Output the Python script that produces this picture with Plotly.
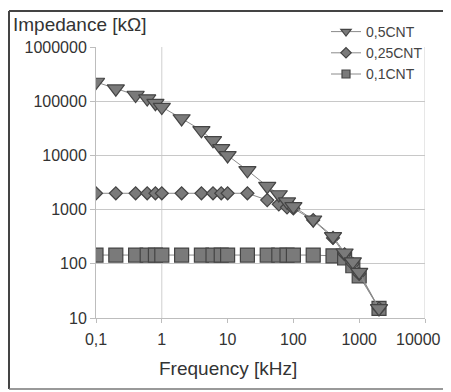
import plotly.graph_objects as go

freq = [0.1, 0.2, 0.4, 0.6, 0.8, 1, 2, 4, 6, 8, 10, 20, 40, 60, 80, 100, 200, 400, 600, 800, 1000, 2000]
z_05cnt = [226000, 170000, 130000, 112000, 92000, 78000, 48000, 29000, 19000, 13500, 10000, 5300,
           2700, 1900, 1400, 1150, 650, 320, 160, 110, 70, 15]
z_025cnt = [2000, 2000, 2000, 2000, 2000, 2000, 2000, 2000, 2000, 2000, 2000, 2000,
            1500, 1250, 1100, 1050, 640, 300, 150, 100, 65, 15]
z_01cnt = [145, 145, 145, 145, 145, 145, 145, 145, 145, 145, 145, 145,
           145, 145, 145, 145, 145, 140, 128, 92, 60, 15]
series_names = ["0,5CNT", "0,25CNT", "0,1CNT"]
x_tickvals = [0.1, 1, 10, 100, 1000, 10000]
x_ticktext = ["0,1", "1", "10", "100", "1000", "10000"]
y_tickvals = [10, 100, 1000, 10000, 100000, 1000000]
y_ticktext = ["10", "100", "1000", "10000", "100000", "1000000"]

# page body has an 8px margin: figure is drawn at (8, 8) in the window
OFF = 8
W, H = 451 - OFF, 392 - OFF
# plot area in window pixels
L, R, T, B = 96, 425, 47, 318


def px(x):
    return (x - L) / (R - L)


def py(y):
    return (B - y) / (B - T)


fig = go.Figure()
line_style = dict(color="#8a8a8a", width=1)
marker_common = dict(color="#7a7a7a", line=dict(color="#444444", width=1.2))

series = [
    (z_01cnt, series_names[2], "square", 14, 8, 3),
    (z_025cnt, series_names[1], "diamond", 10, 8, 2),
    (z_05cnt, series_names[0], "triangle-down", 15, 9, 1),
]
for yvals, name, sym, size, lsize, rank in series:
    fig.add_trace(go.Scatter(x=freq, y=yvals, name=name, mode="lines+markers",
                             line=line_style, showlegend=False,
                             marker=dict(symbol=sym, size=size, **marker_common)))
for yvals, name, sym, size, lsize, rank in series:
    # legend-only entry with small symbol like the original legend
    fig.add_trace(go.Scatter(x=[None], y=[None], name=name, mode="lines+markers",
                             line=line_style, legendrank=rank,
                             marker=dict(symbol=sym, size=lsize, **marker_common)))

shapes = [
    # outer frame
    dict(type="line", xref="paper", yref="paper", x0=px(9), x1=px(451), y0=py(11), y1=py(11),
         line=dict(color="#444", width=2)),
    dict(type="line", xref="paper", yref="paper", x0=px(9), x1=px(9), y0=py(11), y1=py(389),
         line=dict(color="#444", width=2)),
    dict(type="line", xref="paper", yref="paper", x0=px(9), x1=px(451), y0=py(389), y1=py(389),
         line=dict(color="#777", width=1.5)),
    # faint vertical lines
    dict(type="line", xref="x", yref="paper", x0=1, x1=1, y0=0, y1=1,
         line=dict(color="#cfcfcf", width=1), layer="below"),
    dict(type="line", xref="x", yref="paper", x0=10000, x1=10000, y0=0, y1=1,
         line=dict(color="#cfcfcf", width=1), layer="below"),
]

# the last x tick label would be clipped at the page edge: draw it right-aligned instead
shown_ticktext = x_ticktext[:-1] + [""]

fig.update_layout(
    width=W, height=H,
    margin=dict(l=L - OFF, r=451 - R, t=T - OFF, b=392 - B, autoexpand=False),
    paper_bgcolor="white", plot_bgcolor="white",
    font=dict(family="Liberation Sans, Arial, sans-serif", size=16, color="#333"),
    showlegend=True,
    legend=dict(x=px(326), y=py(16), xanchor="left", yanchor="top",
                bgcolor="rgba(0,0,0,0)", font=dict(size=14, color="#444"),
                itemwidth=30, tracegroupgap=0, traceorder="normal"),
    shapes=shapes,
    annotations=[
        dict(text="Impedance [kΩ]", xref="paper", yref="paper", x=px(11), y=py(25),
             xanchor="left", yanchor="middle", showarrow=False,
             font=dict(size=19, color="#333")),
        dict(text="Frequency [kHz]", xref="paper", yref="paper", x=px(228), y=py(368),
             xanchor="center", yanchor="middle", showarrow=False,
             font=dict(size=19, color="#333")),
        dict(text=x_ticktext[-1], xref="paper", yref="paper", x=px(443), y=py(339),
             xanchor="right", yanchor="middle", showarrow=False,
             font=dict(size=16, color="#333")),
    ],
)

fig.update_xaxes(type="log", range=[-1, 4], tickvals=x_tickvals, ticktext=shown_ticktext,
                 showgrid=False, showline=True, linecolor="#bdbdbd", linewidth=1,
                 ticks="outside", ticklen=4, tickcolor="#bdbdbd", zeroline=False,
                 ticklabelstandoff=3,
                 tickfont=dict(size=16, color="#333"))
fig.update_yaxes(type="log", range=[1, 6], tickvals=y_tickvals, ticktext=y_ticktext,
                 showgrid=True, gridcolor="#c8c8c8", gridwidth=1,
                 showline=True, linecolor="#bdbdbd", linewidth=1,
                 ticks="outside", ticklen=5, tickcolor="#bdbdbd", zeroline=False,
                 tickfont=dict(size=16, color="#333"))

fig.write_html("out.html")
